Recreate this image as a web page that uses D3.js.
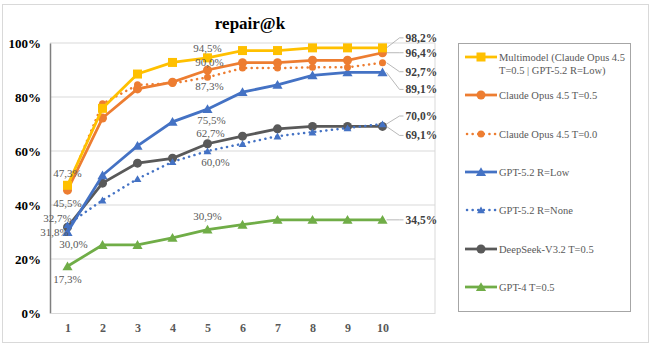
<!DOCTYPE html>
<html>
<head>
<meta charset="utf-8">
<script src="https://cdn.jsdelivr.net/npm/d3@7"></script>
<style>
  body { margin: 0; background: #fff; }
</style>
</head>
<body>
<svg id="chart" width="660" height="346"></svg>
<script>
const ks = [1, 2, 3, 4, 5, 6, 7, 8, 9, 10]
const yTicks = [0, 0.2, 0.4, 0.6, 0.8, 1.0]

const multimodel = [0.473, 0.758, 0.885, 0.928, 0.945, 0.972, 0.972, 0.982, 0.982, 0.982]
const claudeT05 = [0.455, 0.722, 0.830, 0.855, 0.900, 0.927, 0.927, 0.936, 0.936, 0.964]
const claudeT00 = [0.465, 0.775, 0.845, 0.850, 0.873, 0.907, 0.907, 0.910, 0.910, 0.927]
const gptLow = [0.300, 0.510, 0.619, 0.708, 0.755, 0.818, 0.845, 0.880, 0.891, 0.891]
const gptNone = [0.327, 0.418, 0.497, 0.560, 0.600, 0.627, 0.655, 0.670, 0.685, 0.700]
const deepseek = [0.318, 0.481, 0.555, 0.573, 0.627, 0.655, 0.682, 0.691, 0.691, 0.691]
const gpt4 = [0.173, 0.252, 0.252, 0.278, 0.309, 0.327, 0.345, 0.345, 0.345, 0.345]

const series = [
  { name: ['Multimodel (Claude Opus 4.5', 'T=0.5 | GPT-5.2 R=Low)'], values: multimodel, color: '#FFC000', marker: 'square', dotted: false },
  { name: ['Claude Opus 4.5 T=0.5'], values: claudeT05, color: '#ED7D31', marker: 'circle', dotted: false },
  { name: ['Claude Opus 4.5 T=0.0'], values: claudeT00, color: '#ED7D31', marker: 'circle', dotted: true },
  { name: ['GPT-5.2 R=Low'], values: gptLow, color: '#4472C4', marker: 'triangle', dotted: false },
  { name: ['GPT-5.2 R=None'], values: gptNone, color: '#4472C4', marker: 'triangle', dotted: true },
  { name: ['DeepSeek-V3.2 T=0.5'], values: deepseek, color: '#595959', marker: 'circle', dotted: false },
  { name: ['GPT-4 T=0.5'], values: gpt4, color: '#70AD47', marker: 'triangle', dotted: false }
]

// data labels: series index, k, offset of label centre from the point
const pointLabels = [
  [0, 1, 0, -12], [0, 5, 0, -10],
  [1, 1, 0, 13], [1, 5, 2, -8],
  [2, 5, 2, 9],
  [3, 1, 6, 12], [3, 5, 4, 11],
  [4, 1, -10, -7], [4, 5, 8, 11],
  [5, 1, -13, 5], [5, 5, 3, -11],
  [6, 1, 0, 13], [6, 5, 0, -13]
]
// end labels with leader lines: series index, label y offset
const endLabels = [[0, -10], [1, 0], [2, 9], [3, 17], [4, -8], [5, 9], [6, 0]]

const serif = '"Liberation Serif", "Times New Roman", serif'
const svg = d3.select('#chart').attr('font-family', serif)
const x = d3.scaleLinear().domain([0.5, 11.5]).range([50, 435])
const y = d3.scaleLinear().domain([0, 1]).range([313, 43])
const fmt = v => d3.format('.1f')(v * 100).replace('.', ',') + '%'

// chart border
svg.append('rect').attr('x', 2.5).attr('y', 4.5).attr('width', 646).attr('height', 338)
  .attr('fill', '#fff').attr('stroke', '#d9d9d9')

svg.append('text').attr('x', 250).attr('y', 29).attr('text-anchor', 'middle')
  .attr('font-size', 17).attr('font-weight', 'bold').attr('fill', '#000').text('repair@k')

// grid
svg.append('g').selectAll('line').data(yTicks.slice(1)).enter().append('line')
  .attr('x1', 50).attr('x2', 435).attr('y1', d => y(d)).attr('y2', d => y(d))
  .attr('stroke', '#d9d9d9').attr('stroke-width', 1)
svg.append('line').attr('x1', 435).attr('x2', 435).attr('y1', y(1)).attr('y2', y(0))
  .attr('stroke', '#d9d9d9')

const yAxis = svg.append('g').attr('transform', 'translate(50,0)')
  .call(d3.axisLeft(y).tickValues(yTicks).tickFormat(d3.format('.0%')).tickSize(0).tickPadding(9))
  .attr('font-family', serif)
yAxis.select('.domain').attr('stroke', '#7f7f7f').attr('stroke-width', 1.5)
yAxis.selectAll('text').attr('font-size', 13).attr('font-weight', 'bold').attr('fill', '#000')

const xAxis = svg.append('g').attr('transform', 'translate(0,313)')
  .call(d3.axisBottom(x).tickValues(ks).tickFormat(d3.format('d')).tickSize(0).tickPadding(10))
  .attr('font-family', serif)
xAxis.select('.domain').attr('stroke', '#d9d9d9')
xAxis.selectAll('text').attr('font-size', 12).attr('font-weight', 'bold').attr('fill', '#595959')

function drawMarker(g, type, cx, cy, color, s) {
  if (type === 'square') {
    g.append('rect').attr('x', cx - s / 2).attr('y', cy - s / 2).attr('width', s).attr('height', s).attr('fill', color)
  } else if (type === 'circle') {
    g.append('circle').attr('cx', cx).attr('cy', cy).attr('r', s / 2).attr('fill', color)
  } else {
    g.append('path').attr('d', d3.symbol(d3.symbolTriangle, s * s * 0.55)()).attr('transform', `translate(${cx},${cy + 1})`).attr('fill', color)
  }
}

const line = d3.line().x((d, i) => x(ks[i])).y(d => y(d))
const plot = svg.append('g')
// draw bottom series first
series.slice().reverse().forEach(s => {
  const g = plot.append('g')
  g.append('path').attr('d', line(s.values)).attr('fill', 'none').attr('stroke', s.color)
    .attr('stroke-width', s.dotted ? 2.5 : 2.75)
    .attr('stroke-dasharray', s.dotted ? '0.1 5.5' : null)
    .attr('stroke-linecap', s.dotted ? 'round' : 'butt')
  s.values.forEach((v, i) => drawMarker(g, s.marker, x(ks[i]), y(v), s.color, s.dotted ? 7 : 9))
})

const labels = svg.append('g').attr('font-size', 11).attr('fill', '#595959').attr('font-family', serif)
pointLabels.forEach(([si, k, dx, dy]) => {
  const v = series[si].values[k - 1]
  labels.append('text').attr('x', x(k) + dx).attr('y', y(v) + dy).attr('dy', '0.35em')
    .attr('text-anchor', 'middle').text(fmt(v))
})
endLabels.forEach(([si, dy]) => {
  const v = series[si].values[9]
  const px = x(10), py = y(v), ly = py + dy
  labels.append('path').attr('d', `M${px + 4},${py} L${px + 17},${ly} L${px + 21},${ly}`)
    .attr('fill', 'none').attr('stroke', '#a6a6a6').attr('stroke-width', 0.8)
  labels.append('text').attr('x', px + 23).attr('y', ly).attr('dy', '0.35em')
    .attr('font-size', 11.5).attr('font-weight', 'bold').attr('fill', '#404040').text(fmt(v))
})

// legend
const legend = svg.append('g').attr('font-family', serif)
legend.append('rect').attr('x', 458.5).attr('y', 43.5).attr('width', 172).attr('height', 268)
  .attr('fill', '#fff').attr('stroke', '#a6a6a6')
const legendY = [57, 95, 134, 172, 210, 249, 287]
series.forEach((s, i) => {
  const ly = legendY[i]
  const g = legend.append('g')
  g.append('line').attr('x1', s.dotted ? 467 : 465).attr('x2', 497).attr('y1', ly).attr('y2', ly)
    .attr('stroke', s.color).attr('stroke-width', s.dotted ? 2.5 : 2.75)
    .attr('stroke-dasharray', s.dotted ? '0.1 5.5' : null)
    .attr('stroke-linecap', s.dotted ? 'round' : 'butt')
  drawMarker(g, s.marker, 481, ly, s.color, s.dotted ? 7 : 9)
  s.name.forEach((t, j) => {
    g.append('text').attr('x', 499).attr('y', ly + j * 13).attr('dy', '0.35em')
      .attr('font-size', 10.5).attr('fill', '#595959').text(t)
  })
})
</script>
</body>
</html>
